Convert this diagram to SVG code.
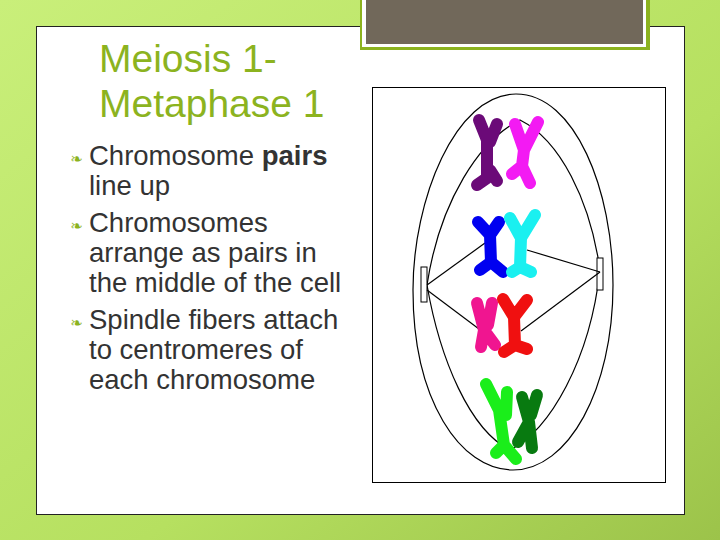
<svg xmlns="http://www.w3.org/2000/svg" width="720" height="540" viewBox="0 0 720 540">
<defs>
<linearGradient id="bg" x1="0" y1="0" x2="1" y2="1">
<stop offset="0" stop-color="#c9ef7a"/><stop offset="0.6" stop-color="#b6e060"/><stop offset="1" stop-color="#9cc34a"/>
</linearGradient>
<style>
.t{font-family:"Liberation Sans",Arial,sans-serif;fill:#8cb31f;font-size:39px}
.b{font-family:"Liberation Sans",Arial,sans-serif;fill:#333;font-size:27.5px}
.bu{font-family:"DejaVu Sans",sans-serif;fill:#8cb31f;font-size:15px}
.ln{fill:none;stroke:#000;stroke-width:1.2}
.ch{fill:none;stroke-width:12;stroke-linecap:round;stroke-linejoin:round}
</style>
</defs>
<rect width="720" height="540" fill="url(#bg)"/>
<rect x="36.5" y="26.5" width="648" height="488" fill="#fff" stroke="#222" stroke-width="1"/>
<rect x="360" y="-2" width="290" height="52" fill="#8cb31f"/>
<rect x="362" y="-2" width="284" height="49" fill="#fff"/>
<rect x="366" y="-2" width="277" height="46" fill="#71685a"/>
<text class="t" x="99" y="72">Meiosis 1-</text>
<text class="t" x="99" y="117">Metaphase 1</text>
<g>
<text class="bu" x="70" y="164">❧</text>
<text class="b" x="89" y="165">Chromosome <tspan font-weight="bold">pairs</tspan></text>
<text class="b" x="89" y="195">line up</text>
<text class="bu" x="70" y="231">❧</text>
<text class="b" x="89" y="232">Chromosomes</text>
<text class="b" x="89" y="262">arrange as pairs in</text>
<text class="b" x="89" y="292">the middle of the cell</text>
<text class="bu" x="70" y="328">❧</text>
<text class="b" x="89" y="329">Spindle fibers attach</text>
<text class="b" x="89" y="359">to centromeres of</text>
<text class="b" x="89" y="389">each chromosome</text>
</g>
<rect x="372.5" y="87.5" width="293" height="395" fill="#fff" stroke="#000" stroke-width="1"/>
<g id="cell">
<path class="ln" d="M516,94 C455,94 413,200 413,290 C413,400 460,470 513,470 C568,470 613,390 613,285 C613,190 575,94 516,94 Z"/>
<path class="ln" d="M427,285 C440,200 480,140 520,120 C560,140 590,200 600,270"/>
<path class="ln" d="M427,285 C440,360 470,430 510,450 C550,430 590,360 600,270"/>
<rect x="421" y="267" width="6" height="35" fill="#fff" stroke="#000"/>
<rect x="597" y="258" width="6" height="32" fill="#fff" stroke="#000"/>
</g>
<g id="connectors" class="ln">
<line x1="427" y1="285" x2="485" y2="243"/>
<line x1="427" y1="290" x2="483" y2="332"/>
<line x1="600" y1="272" x2="527" y2="250"/>
<line x1="600" y1="272" x2="521" y2="331"/>
</g>
<g id="chromosomes">
<path class="ch" stroke="#6b0a78" d="M479,120 L487,140 L487,178 L477,185 M497,124 L490,142 M490,170 L497,181"/>
<path class="ch" stroke="#f31af3" d="M515,124 L524,150 L538,122 M524,150 L522,166 L512,174 M522,166 L530,183"/>
<path class="ch" stroke="#0000f0" d="M478,222 L490,235 L499,222 M490,235 L491,262 L480,270 M491,262 L503,272"/>
<path class="ch" stroke="#1af0f0" d="M510,218 L521,238 L535,215 M521,238 L520,267 L512,272 M520,267 L531,272"/>
<path class="ch" stroke="#f01590" d="M477,303 L484,330 L481,347 M484,330 L495,345 M492,303 L488,325"/>
<path class="ch" stroke="#f01010" d="M503,299 L514,317 L527,300 M514,317 L515,345 L504,352 M515,345 L527,349"/>
<path class="ch" stroke="#1aee1a" d="M486,384 L499,410 L504,445 L496,453 M504,445 L516,459 M507,392 L506,415"/>
<path class="ch" stroke="#087a10" d="M522,397 L529,422 L518,442 M529,422 L532,448 M537,395 L531,415"/>
</g>
</svg>
